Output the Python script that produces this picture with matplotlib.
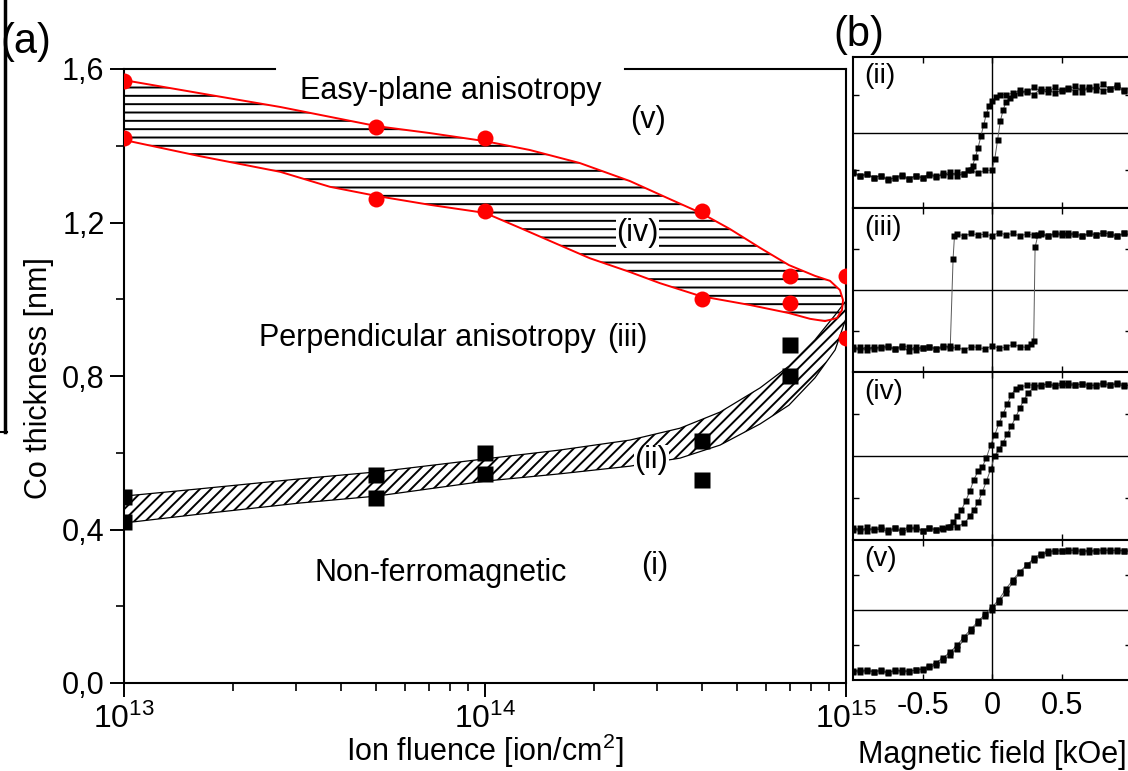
import matplotlib
matplotlib.use("Agg")
import matplotlib.pyplot as plt
from matplotlib.lines import Line2D
from matplotlib.ticker import FuncFormatter, LogLocator, NullFormatter, MultipleLocator, FixedLocator

plt.rcParams['font.family'] = ['Liberation Sans', 'DejaVu Sans']
plt.rcParams['mathtext.fontset'] = 'custom'
plt.rcParams['mathtext.rm'] = 'Liberation Sans'
plt.rcParams['mathtext.it'] = 'Liberation Sans:italic'
plt.rcParams['hatch.linewidth'] = 1.4

# ---- (a) phase diagram: measured points ----
fluence_red = [1e13, 1e13, 5e13, 5e13, 1e14, 1e14, 4e14, 4e14, 7e14, 7e14, 1e15, 1e15]
thick_red = [1.57, 1.42, 1.45, 1.26, 1.42, 1.23, 1.23, 1.00, 1.06, 0.99, 1.06, 0.90]
fluence_black = [1e13, 1e13, 5e13, 5e13, 1e14, 1e14, 4e14, 4e14, 7e14, 7e14]
thick_black = [0.485, 0.42, 0.542, 0.482, 0.60, 0.545, 0.63, 0.53, 0.88, 0.80]

# outline of the easy-plane / perpendicular transition band (iv)
band_iv_x = [1e13, 1.62e13, 2.71e13, 5.02e13, 7.04e13, 1e14, 1.33e14, 1.83e14, 2.52e14, 3.25e14,
             3.96e14, 4.77e14, 5.78e14, 6.95e14, 8.2e14, 9.03e14, 9.62e14, 9.81e14, 9.75e14, 9.44e14,
             8.75e14, 7.95e14, 6.95e14, 5.42e14, 3.96e14, 3.05e14, 2.52e14, 1.95e14, 1.61e14, 1.25e14,
             1e14, 7.04e13, 5.02e13, 3.72e13, 2.71e13, 1.62e13, 1e13]
band_iv_y = [1.571, 1.537, 1.501, 1.451, 1.433, 1.412, 1.389, 1.355, 1.308, 1.261,
             1.225, 1.183, 1.134, 1.089, 1.061, 1.048, 1.024, 0.998, 0.972, 0.951,
             0.943, 0.949, 0.964, 0.985, 1.008, 1.042, 1.071, 1.107, 1.141, 1.186,
             1.225, 1.246, 1.269, 1.293, 1.332, 1.373, 1.415]

# outline of the non-ferromagnetic / perpendicular transition band (ii)
band_ii_x = [1e13, 1.62e13, 3.07e13, 5e13, 1e14, 1.61e14, 2.52e14, 3.47e14, 4.48e14, 5.78e14,
             6.95e14, 8.2e14, 9.33e14, 9.94e14, 1e15, 9.33e14, 8.2e14, 6.95e14, 5.78e14,
             4.48e14, 3.47e14, 2.52e14, 1.61e14, 1e14, 5e13, 3.07e13, 1.62e13, 1e13]
band_ii_y = [0.487, 0.506, 0.532, 0.55, 0.584, 0.607, 0.633, 0.664, 0.706, 0.769,
             0.826, 0.894, 0.959, 0.993, 0.95, 0.868, 0.795, 0.724, 0.675,
             0.62, 0.586, 0.565, 0.545, 0.526, 0.487, 0.469, 0.44, 0.417]

y_ticks = [0.0, 0.4, 0.8, 1.2, 1.6]

# ---- (b) hysteresis loops (field in kOe, normalised signal) ----
up_x_ii = [-1.0, -0.95, -0.9, -0.85, -0.8, -0.75, -0.7, -0.65, -0.6, -0.55, -0.5, -0.45, -0.4, -0.35,
           -0.3, -0.25, -0.2, -0.15, -0.1, -0.05, 0.0, 0.02, 0.04, 0.06, 0.08, 0.1, 0.13, 0.16, 0.2,
           0.25, 0.3, 0.35, 0.4, 0.45, 0.5, 0.55, 0.6, 0.65, 0.7, 0.75, 0.8, 0.85, 0.9, 0.95, 1.0]
up_y_ii = [-0.52, -0.58, -0.55, -0.6, -0.57, -0.62, -0.6, -0.56, -0.61, -0.58, -0.6, -0.55, -0.58, -0.56,
           -0.52, -0.57, -0.55, -0.5, -0.54, -0.5, -0.5, -0.35, -0.1, 0.15, 0.3, 0.4, 0.46, 0.5, 0.52,
           0.55, 0.5, 0.58, 0.53, 0.6, 0.55, 0.57, 0.62, 0.54, 0.6, 0.56, 0.64, 0.57, 0.6, 0.55, 0.62]
dn_x_ii = [1.0, 0.95, 0.9, 0.85, 0.8, 0.75, 0.7, 0.65, 0.6, 0.55, 0.5, 0.45, 0.4, 0.35, 0.3, 0.25, 0.2,
           0.15, 0.1, 0.06, 0.03, 0.0, -0.02, -0.04, -0.06, -0.08, -0.1, -0.12, -0.14, -0.17, -0.2,
           -0.25, -0.3, -0.35, -0.4, -0.45, -0.5, -0.55, -0.6, -0.65, -0.7, -0.75, -0.8, -0.85, -0.9,
           -0.95, -1.0]
dn_y_ii = [0.6, 0.56, 0.63, 0.58, 0.55, 0.61, 0.57, 0.6, 0.54, 0.59, 0.56, 0.52, 0.58, 0.55, 0.6, 0.53,
           0.56, 0.52, 0.5, 0.5, 0.47, 0.42, 0.35, 0.25, 0.1, -0.05, -0.2, -0.33, -0.44, -0.5, -0.55,
           -0.52, -0.57, -0.54, -0.59, -0.56, -0.6, -0.57, -0.62, -0.58, -0.6, -0.63, -0.57, -0.6, -0.55,
           -0.58, -0.53]

up_x_iii = [-1.0, -0.95, -0.9, -0.85, -0.8, -0.75, -0.7, -0.65, -0.6, -0.55, -0.5, -0.45, -0.4, -0.35,
            -0.3, -0.25, -0.2, -0.15, -0.1, -0.05, 0.0, 0.05, 0.1, 0.15, 0.2, 0.25, 0.28, 0.3, 0.31,
            0.33, 0.35, 0.4, 0.45, 0.5, 0.55, 0.6, 0.65, 0.7, 0.75, 0.8, 0.85, 0.9, 0.95, 1.0]
up_y_iii = [-0.7, -0.73, -0.69, -0.72, -0.7, -0.68, -0.72, -0.7, -0.74, -0.69, -0.71, -0.7, -0.72, -0.68,
            -0.71, -0.7, -0.73, -0.69, -0.7, -0.72, -0.68, -0.71, -0.7, -0.66, -0.69, -0.7, -0.66,
            -0.62, 0.52, 0.67, 0.68, 0.66, 0.69, 0.67, 0.7, 0.68, 0.66, 0.69, 0.67, 0.7, 0.68, 0.66,
            0.69, 0.67]
dn_x_iii = [1.0, 0.95, 0.9, 0.85, 0.8, 0.75, 0.7, 0.65, 0.6, 0.55, 0.5, 0.45, 0.4, 0.35, 0.3, 0.25, 0.2,
            0.15, 0.1, 0.05, 0.0, -0.05, -0.1, -0.15, -0.2, -0.25, -0.27, -0.28, -0.3, -0.35, -0.4,
            -0.45, -0.5, -0.55, -0.6, -0.65, -0.7, -0.75, -0.8, -0.85, -0.9, -0.95, -1.0]
dn_y_iii = [0.67, 0.69, 0.66, 0.68, 0.7, 0.67, 0.69, 0.66, 0.68, 0.67, 0.7, 0.68, 0.66, 0.69, 0.67, 0.68,
            0.66, 0.69, 0.67, 0.7, 0.66, 0.68, 0.67, 0.69, 0.66, 0.68, 0.66, 0.38, -0.68, -0.7, -0.72,
            -0.69, -0.71, -0.73, -0.7, -0.68, -0.72, -0.7, -0.71, -0.69, -0.73, -0.7, -0.72]

up_x_iv = [-1.0, -0.95, -0.9, -0.85, -0.8, -0.75, -0.7, -0.65, -0.6, -0.55, -0.5, -0.45, -0.4, -0.35,
           -0.3, -0.25, -0.2, -0.16, -0.13, -0.1, -0.07, -0.04, -0.01, 0.02, 0.05, 0.08, 0.11, 0.14,
           0.17, 0.2, 0.23, 0.26, 0.3, 0.35, 0.4, 0.45, 0.5, 0.55, 0.6, 0.65, 0.7, 0.75, 0.8, 0.85,
           0.9, 0.95, 1.0]
up_y_iv = [-0.86, -0.89, -0.85, -0.88, -0.87, -0.9, -0.86, -0.88, -0.85, -0.87, -0.89, -0.86, -0.88,
           -0.87, -0.85, -0.84, -0.8, -0.72, -0.64, -0.55, -0.43, -0.3, -0.16, 0.0, 0.08, 0.16, 0.26,
           0.36, 0.46, 0.57, 0.67, 0.75, 0.82, 0.84, 0.86, 0.83, 0.85, 0.87, 0.84, 0.86, 0.85, 0.83,
           0.86, 0.84, 0.87, 0.85, 0.83]
dn_x_iv = [1.0, 0.95, 0.9, 0.85, 0.8, 0.75, 0.7, 0.65, 0.6, 0.55, 0.5, 0.45, 0.4, 0.35, 0.3, 0.25, 0.2,
           0.17, 0.14, 0.11, 0.08, 0.05, 0.02, -0.01, -0.04, -0.07, -0.1, -0.13, -0.16, -0.19, -0.22,
           -0.25, -0.28, -0.32, -0.36, -0.4, -0.45, -0.5, -0.55, -0.6, -0.65, -0.7, -0.75, -0.8, -0.85,
           -0.9, -0.95, -1.0]
dn_y_iv = [0.85, 0.83, 0.86, 0.84, 0.87, 0.85, 0.83, 0.86, 0.84, 0.85, 0.87, 0.84, 0.86, 0.83, 0.85,
           0.84, 0.82, 0.8, 0.73, 0.62, 0.5, 0.39, 0.25, 0.13, -0.02, -0.13, -0.18, -0.28, -0.42,
           -0.54, -0.64, -0.72, -0.79, -0.84, -0.86, -0.88, -0.86, -0.89, -0.85, -0.87, -0.9, -0.86,
           -0.88, -0.85, -0.87, -0.89, -0.86, -0.88]

field_v = [-1.0, -0.95, -0.9, -0.85, -0.8, -0.75, -0.7, -0.65, -0.6, -0.55, -0.5, -0.45, -0.4, -0.35,
           -0.3, -0.25, -0.2, -0.15, -0.1, -0.05, 0.0, 0.05, 0.1, 0.15, 0.2, 0.25, 0.3, 0.35, 0.4,
           0.45, 0.5, 0.55, 0.6, 0.65, 0.7, 0.75, 0.8, 0.85, 0.9, 0.95, 1.0]
up_y_v = [-0.87, -0.89, -0.86, -0.88, -0.87, -0.9, -0.86, -0.88, -0.87, -0.86, -0.85, -0.82, -0.78,
          -0.72, -0.64, -0.55, -0.42, -0.3, -0.18, -0.08, 0.0, 0.12, 0.24, 0.4, 0.53, 0.64, 0.74,
          0.8, 0.84, 0.85, 0.84, 0.86, 0.85, 0.83, 0.86, 0.84, 0.85, 0.86, 0.84, 0.85, 0.83]
dn_y_v = [0.85, 0.84, 0.86, 0.84, 0.86, 0.85, 0.83, 0.85, 0.86, 0.84, 0.85, 0.84, 0.82, 0.78, 0.72,
          0.64, 0.55, 0.43, 0.3, 0.15, 0.04, -0.06, -0.16, -0.27, -0.38, -0.5, -0.6, -0.68, -0.75,
          -0.8, -0.84, -0.86, -0.88, -0.86, -0.87, -0.89, -0.86, -0.88, -0.87, -0.85, -0.88]

loops = [
    ('(ii)', up_x_ii, up_y_ii, dn_x_ii, dn_y_ii),
    ('(iii)', up_x_iii, up_y_iii, dn_x_iii, dn_y_iii),
    ('(iv)', up_x_iv, up_y_iv, dn_x_iv, dn_y_iv),
    ('(v)', field_v, up_y_v, field_v[::-1], dn_y_v),
]
# panel pixel extents (top, bottom) in the 1128x771 canvas
panel_rows = [(57, 208), (208, 372), (372, 540), (540, 680)]

W, H = 1128, 771
fig = plt.figure(figsize=(W / 100, H / 100), dpi=100)

# ================= panel (a) =================
ax = fig.add_axes([124 / W, 1 - 683 / H, 722 / W, 614 / H])
ax.set_xscale('log')
ax.set_xlim(1e13, 1e15)
ax.set_ylim(0, 1.6)

ax.fill(band_ii_x, band_ii_y, facecolor='none', edgecolor='k', lw=0, hatch='///', zorder=1)
ax.plot(band_ii_x + band_ii_x[:1], band_ii_y + band_ii_y[:1], color='k', lw=0.9, zorder=2)
ax.fill(band_iv_x, band_iv_y, facecolor='none', edgecolor='k', lw=0, hatch='--', zorder=1)
ax.plot(band_iv_x + band_iv_x[:1], band_iv_y + band_iv_y[:1], color='red', lw=1.4, zorder=2)

ax.plot(fluence_red, thick_red, 'o', color='red', ms=11.5, mec='none', zorder=4)
ax.plot(fluence_black, thick_black, 's', color='black', ms=11, mec='none', zorder=4)

# spines: top frame is interrupted by the "Easy-plane" label
ax.spines['top'].set_visible(False)
for s in ['left', 'right', 'bottom']:
    ax.spines[s].set_linewidth(1.5)
ax.plot([0, 0.209], [1, 1], transform=ax.transAxes, color='k', lw=1.5, clip_on=False)
ax.plot([0.694, 1], [1, 1], transform=ax.transAxes, color='k', lw=1.5, clip_on=False)

ax.yaxis.set_major_locator(FixedLocator(y_ticks))
ax.yaxis.set_minor_locator(MultipleLocator(0.2))
ax.yaxis.set_major_formatter(FuncFormatter(lambda v, p: f'{v:.1f}'.replace('.', ',')))
ax.xaxis.set_major_locator(LogLocator(base=10, numticks=10))
ax.xaxis.set_minor_locator(LogLocator(base=10, subs=range(2, 10), numticks=20))
ax.xaxis.set_minor_formatter(NullFormatter())
ax.tick_params(which='major', direction='out', length=10, width=1.4, labelsize=22, pad=4)
ax.tick_params(which='minor', direction='out', length=6, width=1.2)
ax.tick_params(axis='x', which='major', labelsize=23, pad=5)

ax.set_ylabel('Co thickness [nm]', fontsize=22)
ax.yaxis.set_label_coords(-0.097, 0.497)
ax.set_xlabel('Ion fluence [ion/cm$^2$]', fontsize=22)
ax.xaxis.set_label_coords(0.5, -0.08)

txt = dict(transform=ax.transAxes, fontsize=22, ha='center', va='center', zorder=5)
ax.text(0.453, 0.964, 'Easy-plane anisotropy', **txt)
ax.text(0.726, 0.917, '(v)', **txt)
ax.text(0.711, 0.733, '(iv)', bbox=dict(facecolor='white', edgecolor='none', pad=0.5), **txt)
ax.text(0.42, 0.562, 'Perpendicular anisotropy', **txt)
ax.text(0.697, 0.562, '(iii)', **txt)
ax.text(0.730, 0.363, '(ii)', bbox=dict(facecolor='white', edgecolor='none', pad=0.5), **txt)
ax.text(0.439, 0.179, 'Non-ferromagnetic', **txt)
ax.text(0.735, 0.19, '(i)', **txt)

# ================= panel (b) =================
for i, ((name, ux, uy, dx, dy), (top, bot)) in enumerate(zip(loops, panel_rows)):
    bx = fig.add_axes([853 / W, 1 - bot / H, 278 / W, (bot - top) / H])
    bx.set_xlim(-1, 1)
    bx.set_ylim(-1, 1)
    bx.axhline(0, color='k', lw=1.0, zorder=1)
    bx.axvline(0, color='k', lw=1.0, zorder=1)
    for xs, ys in [(ux, uy), (dx, dy)]:
        bx.plot(xs, ys, '-', color='0.35', lw=0.7, zorder=2)
        bx.plot(xs, ys, 's', color='k', ms=4.2, mec='none', zorder=3)
    for s in bx.spines.values():
        s.set_linewidth(1.5)
    bx.set_xticks([-0.5, 0, 0.5])
    bx.set_yticks([-0.5, 0.5])
    bx.tick_params(direction='in', top=True, bottom=True, left=True, right=True,
                   length=4, width=1.0, labelleft=False, labelbottom=(i == 3), labelsize=22, pad=8)
    if i == 3:
        bx.set_xticklabels(['-0.5', '0', '0.5'])
        bx.set_xlabel('Magnetic field [kOe]', fontsize=22)
        bx.xaxis.set_label_coords(0.5, -0.43)
    bx.text(0.04, 0.96, name, transform=bx.transAxes, fontsize=20, ha='left', va='top')

fig.text(0 / W, 1 - 42 / H, '(a)', fontsize=30, ha='left', va='center')
fig.text(833 / W, 1 - 35 / H, '(b)', fontsize=30, ha='left', va='center')
fig.add_artist(Line2D([4.5 / W, 4.5 / W], [1, 1 - 432 / H], color='k', lw=2.5))
fig.add_artist(Line2D([0, 7 / W], [1 - 432 / H, 1 - 432 / H], color='k', lw=1.5))

fig.savefig('out.png', dpi=100)
